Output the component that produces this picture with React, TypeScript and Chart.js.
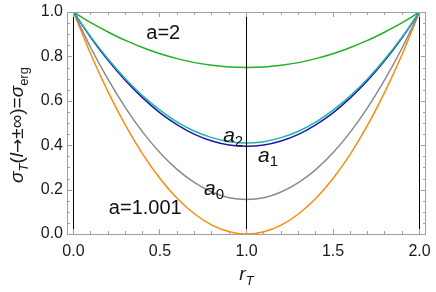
import React, { useEffect, useRef } from "react";
import { Chart, registerables } from "chart.js";

Chart.register(...registerables);

const rValues = [0, 0.1, 0.2, 0.3, 0.4, 0.5, 0.6, 0.7, 0.8, 0.9, 1.0, 1.1, 1.2, 1.3, 1.4, 1.5, 1.6, 1.7, 1.8, 1.9, 2.0];
const sigmaA2 = [1, 0.952, 0.91, 0.872, 0.84, 0.812, 0.79, 0.772, 0.76, 0.752, 0.75, 0.752, 0.76, 0.772, 0.79, 0.812, 0.84, 0.872, 0.91, 0.952, 1];
const sigmaAsub2 = [1, 0.888, 0.788, 0.699, 0.622, 0.558, 0.504, 0.463, 0.434, 0.416, 0.41, 0.416, 0.434, 0.463, 0.504, 0.558, 0.622, 0.699, 0.788, 0.888, 1];
const sigmaAsub1 = [1, 0.885, 0.782, 0.691, 0.613, 0.546, 0.492, 0.449, 0.419, 0.401, 0.395, 0.401, 0.419, 0.449, 0.492, 0.546, 0.613, 0.691, 0.782, 0.885, 1];
const sigmaAsub0 = [1, 0.839, 0.696, 0.569, 0.459, 0.366, 0.29, 0.231, 0.189, 0.163, 0.155, 0.163, 0.189, 0.231, 0.29, 0.366, 0.459, 0.569, 0.696, 0.839, 1];
const sigmaA1001 = [1, 0.81, 0.64, 0.49, 0.36, 0.25, 0.16, 0.09, 0.04, 0.01, 0, 0.01, 0.04, 0.09, 0.16, 0.25, 0.36, 0.49, 0.64, 0.81, 1];
const verticalLinesX = [0, 1, 2];
const xTicks = [0, 0.5, 1, 1.5, 2];
const yTicks = [0, 0.2, 0.4, 0.6, 0.8, 1];
const xTickLabels = ["0.0", "0.5", "1.0", "1.5", "2.0"];
const yTickLabels = ["0.0", "0.2", "0.4", "0.6", "0.8", "1.0"];

const SANS = '"Liberation Sans", Arial, sans-serif';
const DEJAVU = '"DejaVu Sans", sans-serif';

type Piece = { t: string; italic?: boolean; sub?: boolean; family?: string; scale?: number };

const plainLabels = [
  { text: "a=2", x: 0.519, y: 0.905 },
  { text: "a=1.001", x: 0.415, y: 0.117 },
];
const subLabels = [
  { base: "a", sub: "2", x: 0.865, y: 0.441 },
  { base: "a", sub: "1", x: 1.067, y: 0.351 },
  { base: "a", sub: "0", x: 0.755, y: 0.203 },
];

function drawPieces(ctx: CanvasRenderingContext2D, pieces: Piece[], size: number, subSize: number, cx: number, baseY: number) {
  const fontFor = (p: Piece) =>
    `${p.italic ? "italic " : ""}${Math.round((p.sub ? subSize : size) * (p.scale || 1))}px ${p.family || SANS}`;
  let total = 0;
  const widths = pieces.map((p) => {
    ctx.font = fontFor(p);
    const w = ctx.measureText(p.t).width;
    total += w;
    return w;
  });
  let x = cx - total / 2;
  ctx.textAlign = "left";
  ctx.textBaseline = "alphabetic";
  pieces.forEach((p, i) => {
    ctx.font = fontFor(p);
    ctx.fillText(p.t, x, baseY + (p.sub ? size * 0.28 : 0));
    x += widths[i];
  });
}

const framePlugin = {
  id: "framePlugin",
  afterDraw(chart: any) {
    const ctx: CanvasRenderingContext2D = chart.ctx;
    const { left, right, top, bottom } = chart.chartArea;
    const xs = chart.scales.x;
    const ys = chart.scales.y;
    ctx.save();
    ctx.strokeStyle = "#a0a0a0";
    ctx.lineWidth = 1;
    ctx.strokeRect(left + 0.5, top + 0.5, right - left - 1, bottom - top);
    ctx.beginPath();
    for (let i = 0; i <= 20; i++) {
      const v = i / 10;
      const px = Math.round(xs.getPixelForValue(v) - 0.5) + 0.5;
      const len = i % 5 === 0 ? 5 : 3;
      ctx.moveTo(px, bottom);
      ctx.lineTo(px, bottom - len);
      ctx.moveTo(px, top);
      ctx.lineTo(px, top + len);
    }
    for (let i = 0; i <= 20; i++) {
      const v = i / 20;
      const py = Math.round(ys.getPixelForValue(v)) + 0.5;
      const len = i % 4 === 0 ? 5 : 3;
      ctx.moveTo(left, py);
      ctx.lineTo(left + len, py);
      ctx.moveTo(right, py);
      ctx.lineTo(right - len, py);
    }
    ctx.stroke();

    ctx.fillStyle = "#1a1a1a";
    ctx.font = `16px ${SANS}`;
    ctx.textAlign = "center";
    ctx.textBaseline = "alphabetic";
    xTicks.forEach((v, i) => {
      ctx.fillText(xTickLabels[i], xs.getPixelForValue(v), 256);
    });
    ctx.textAlign = "right";
    ctx.textBaseline = "middle";
    yTicks.forEach((v, i) => {
      ctx.fillText(yTickLabels[i], 63, ys.getPixelForValue(v));
    });

    ctx.fillStyle = "#1a1a1a";
    drawPieces(ctx, [{ t: "r", italic: true }, { t: "T", italic: true, sub: true }], 19, 13, (left + right) / 2, 280);

    ctx.save();
    ctx.translate(23, (top + bottom) / 2 + 2);
    ctx.rotate(-Math.PI / 2);
    drawPieces(
      ctx,
      [
        { t: "σ", italic: true },
        { t: "T", italic: true, sub: true },
        { t: "(" },
        { t: "l", italic: true },
        { t: "→", family: DEJAVU, scale: 0.9 },
        { t: "±∞)=" },
        { t: "σ", italic: true },
        { t: "erg", sub: true },
      ],
      19,
      13,
      0,
      0
    );
    ctx.restore();

    ctx.fillStyle = "#111";
    ctx.font = `20px ${SANS}`;
    ctx.textAlign = "center";
    ctx.textBaseline = "middle";
    plainLabels.forEach((l) => {
      ctx.fillText(l.text, xs.getPixelForValue(l.x), ys.getPixelForValue(l.y));
    });
    subLabels.forEach((l) => {
      const px = xs.getPixelForValue(l.x);
      const py = ys.getPixelForValue(l.y);
      ctx.textAlign = "left";
      ctx.textBaseline = "alphabetic";
      ctx.font = `italic 21px ${SANS}`;
      ctx.fillText(l.base, px, py + 6);
      const w = ctx.measureText(l.base).width;
      ctx.font = `15px ${SANS}`;
      ctx.fillText(l.sub, px + w, py + 10);
    });
    ctx.restore();
  },
};

export default function App() {
  const canvasRef = useRef<HTMLCanvasElement | null>(null);

  useEffect(() => {
    if (!canvasRef.current) return;
    const mk = (ys: number[]) => rValues.map((x, i) => ({ x, y: ys[i] }));
    const curve = (data: number[], color: string) => ({
      data: mk(data),
      borderColor: color,
      borderWidth: 1.5,
      pointRadius: 0,
      fill: false,
      cubicInterpolationMode: "monotone" as const,
    });
    const vlines = verticalLinesX.map((x) => ({
      data: [
        { x, y: 0 },
        { x, y: 1 },
      ],
      borderColor: "#000000",
      borderWidth: 1,
      pointRadius: 0,
      fill: false,
    }));
    const chart = new Chart(canvasRef.current, {
      type: "line",
      data: {
        datasets: [
          ...vlines,
          curve(sigmaAsub2, "#22b2b2"),
          curve(sigmaAsub1, "#1a1aa6"),
          curve(sigmaA2, "#22b022"),
          curve(sigmaAsub0, "#8a8a8a"),
          curve(sigmaA1001, "#ff8a10"),
        ] as any,
      },
      options: {
        animation: false,
        responsive: false,
        maintainAspectRatio: false,
        layout: { padding: { left: 67, right: 10, top: 12, bottom: 58 } },
        plugins: { legend: { display: false }, tooltip: { enabled: false } },
        scales: {
          x: { type: "linear", min: -0.0375, max: 2.0375, display: false },
          y: { type: "linear", min: 0, max: 1, display: false },
        },
      },
      plugins: [framePlugin],
    });
    return () => chart.destroy();
  }, []);

  return (
    <div style={{ position: "absolute", left: 0, top: 0, width: 436, height: 292, background: "#fff" }}>
      <canvas ref={canvasRef} width={436} height={292} style={{ width: 436, height: 292 }} />
    </div>
  );
}
